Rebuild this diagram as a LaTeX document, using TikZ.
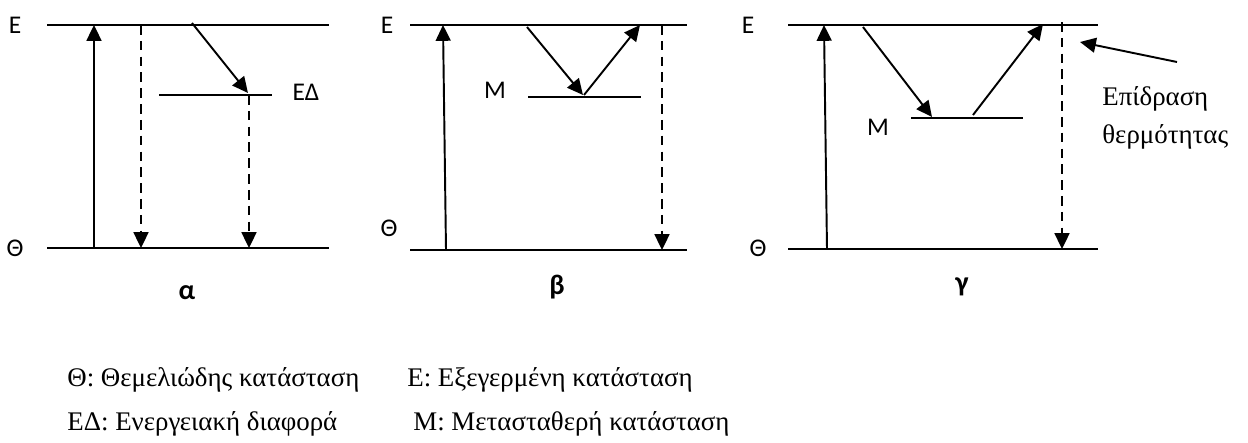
\documentclass[tikz,border=0pt]{standalone}
\usepackage{fontspec}
\setmainfont{Liberation Serif}
\newfontfamily\labelfont{Carlito}
\usetikzlibrary{arrows.meta}
\tikzset{
  level/.style={line width=1.1pt},
  arr/.style={-{Triangle[length=9pt,width=8.5pt]}, line width=1.1pt},
  darr/.style={arr, dash pattern=on 5.5pt off 3.5pt},
  lvlabel/.style={font=\labelfont\fontsize{14.5}{17}\selectfont, inner sep=0pt},
  panellabel/.style={font=\labelfont\bfseries\fontsize{16}{19}\selectfont, inner sep=0pt},
  legend/.style={font=\fontsize{15.3}{18}\selectfont, anchor=base west, inner sep=0pt},
}

\begin{document}
\begin{tikzpicture}[x=0.02cm, y=-0.02cm]
  \useasboundingbox (0,0) rectangle (1248,443);

  % Panel alpha
  \coordinate (aE1) at (47,25);   \coordinate (aE2) at (329,25);
  \coordinate (aG1) at (47,248);  \coordinate (aG2) at (329,248);
  \coordinate (aD1) at (159,95);  \coordinate (aD2) at (272,95);
  \draw[level] (aE1) -- (aE2);
  \draw[level] (aG1) -- (aG2);
  \draw[level] (aD1) -- (aD2);
  \node[lvlabel] (aElab) at (15,25) {Ε};
  \node[lvlabel] (aGlab) at (15,248) {Θ};
  \node[lvlabel] (aDlab) at (306,92) {ΕΔ};
  \node[panellabel] (alab) at (187,293) {α};

  \coordinate (aUp0) at (94,248);  \coordinate (aUp1) at (94,25);
  \coordinate (aDn0) at (141,25);  \coordinate (aDn1) at (141,248);
  \coordinate (aSl0) at (192,23);  \coordinate (aSl1) at (248,93);
  \coordinate (aDd0) at (249,95);  \coordinate (aDd1) at (249,248);
  \draw[arr] (aUp0) -- (aUp1);
  \draw[darr] (aDn0) -- (aDn1);
  \draw[arr] (aSl0) -- (aSl1);
  \draw[darr] (aDd0) -- (aDd1);

  % Panel beta
  \coordinate (bE1) at (410,25);  \coordinate (bE2) at (687,25);
  \coordinate (bG1) at (410,250); \coordinate (bG2) at (687,250);
  \coordinate (bM1) at (528,97);  \coordinate (bM2) at (641,97);
  \draw[level] (bE1) -- (bE2);
  \draw[level] (bG1) -- (bG2);
  \draw[level] (bM1) -- (bM2);
  \node[lvlabel] (bElab) at (387,25) {Ε};
  \node[lvlabel] (bGlab) at (389,228) {Θ};
  \node[lvlabel] (bMlab) at (495,90) {Μ};
  \node[panellabel] (blab) at (557,287) {β};

  \coordinate (bUp0) at (446,250); \coordinate (bUp1) at (443,25);
  \coordinate (bSl0) at (527,27);  \coordinate (bSl1) at (583,95);
  \coordinate (bSr0) at (584,95);  \coordinate (bSr1) at (640,25);
  \coordinate (bDn0) at (662,25);  \coordinate (bDn1) at (662,250);
  \draw[arr] (bUp0) -- (bUp1);
  \draw[arr] (bSl0) -- (bSl1);
  \draw[arr] (bSr0) -- (bSr1);
  \draw[darr] (bDn0) -- (bDn1);

  % Panel gamma
  \coordinate (cE1) at (788,25);  \coordinate (cE2) at (1098,25);
  \coordinate (cG1) at (788,249); \coordinate (cG2) at (1098,249);
  \coordinate (cM1) at (911,118); \coordinate (cM2) at (1023,118);
  \draw[level] (cE1) -- (cE2);
  \draw[level] (cG1) -- (cG2);
  \draw[level] (cM1) -- (cM2);
  \node[lvlabel] (cElab) at (748,25) {Ε};
  \node[lvlabel] (cGlab) at (758,248) {Θ};
  \node[lvlabel] (cMlab) at (878,127) {Μ};
  \node[panellabel] (clab) at (962,287) {γ};

  \coordinate (cUp0) at (827,249); \coordinate (cUp1) at (824,25);
  \coordinate (cSl0) at (863,27);  \coordinate (cSl1) at (932,117);
  \coordinate (cSr0) at (973,115); \coordinate (cSr1) at (1043,24);
  \coordinate (cDn0) at (1062,22); \coordinate (cDn1) at (1062,249);
  \draw[arr] (cUp0) -- (cUp1);
  \draw[arr] (cSl0) -- (cSl1);
  \draw[arr] (cSr0) -- (cSr1);
  \draw[darr] (cDn0) -- (cDn1);

  % Heat
  \node[legend] (heat1) at (1102,105) {Επίδραση};
  \node[legend] (heat2) at (1102,143) {θερμότητας};
  \coordinate (heat0) at (1177,62); \coordinate (heatT) at (1080,42);
  \draw[arr] (heat0) -- (heatT);

  % Legend
  \node[legend] (legG) at (67,386) {Θ: Θεμελιώδης κατάσταση};
  \node[legend] (legE) at (407,386) {Ε: Εξεγερμένη κατάσταση};
  \node[legend] (legD) at (67,430) {ΕΔ: Ενεργειακή διαφορά};
  \node[legend] (legM) at (413,430) {Μ: Μετασταθερή κατάσταση};
\end{tikzpicture}
\end{document}
